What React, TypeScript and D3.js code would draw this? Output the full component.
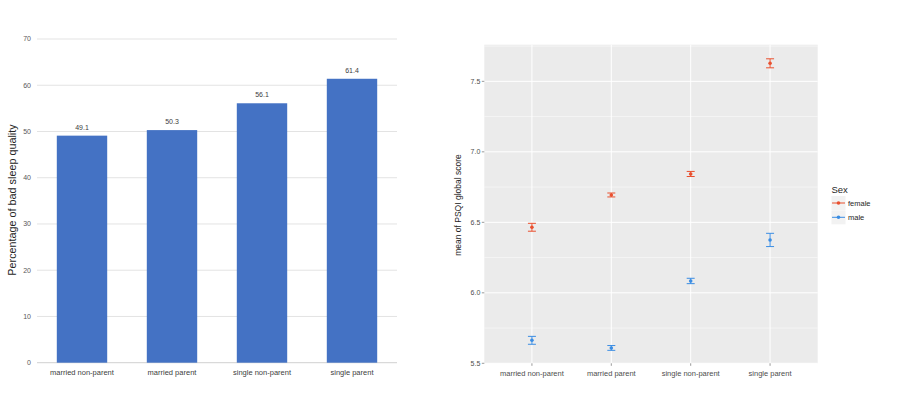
import React from "react";
import * as d3 from "d3";

// bar chart data
const groups = ["married non-parent", "married parent", "single non-parent", "single parent"];
const badSleepPct = [49.1, 50.3, 56.1, 61.4];
const pctTicks = [0, 10, 20, 30, 40, 50, 60, 70];

// point/errorbar chart data
const sexes = ["female", "male"];
const femaleMean = [6.465, 6.694, 6.843, 7.628];
const femaleErr = [0.028, 0.014, 0.018, 0.032];
const maleMean = [5.663, 5.609, 6.084, 6.375];
const maleErr = [0.028, 0.017, 0.019, 0.047];
const psqiTicks = [5.5, 6.0, 6.5, 7.0, 7.5];
const psqiMinor = [5.75, 6.25, 6.75, 7.25, 7.75];

const sexColors = ["#E9502F", "#3B8DE3"];
const font = "Liberation Sans, Arial, sans-serif";

const App: React.FC = () => {
  // left chart
  const x1 = d3.scaleBand().domain(groups).range([37, 397]).paddingInner(0.44).paddingOuter(0.22);
  const y1 = d3.scaleLinear().domain([0, 70]).range([362.7, 39]);

  // right chart
  const px0 = 484.3, px1 = 817.7, py0 = 44.7, py1 = 363.3;
  const x2 = d3.scalePoint().domain(groups).range([px0, px1]).padding(0.6);
  const y2 = d3.scaleLinear().domain([5.5, 7.76]).range([py1, py0]);

  const series = [
    { name: sexes[0], mean: femaleMean, err: femaleErr, color: sexColors[0] },
    { name: sexes[1], mean: maleMean, err: maleErr, color: sexColors[1] },
  ];

  return (
    <svg width={918} height={418} style={{ position: "absolute", left: 0, top: 0 }} fontFamily={font}>
      <rect width={918} height={418} fill="#fff" />

      {/* left: bars */}
      {pctTicks.map((t) => (
        <g key={"g" + t}>
          <line x1={37} x2={397} y1={y1(t)} y2={y1(t)} stroke={t === 0 ? "#D0D0D0" : "#E3E3E3"} strokeWidth={1} />
          <text x={31} y={y1(t)} dy="0.35em" textAnchor="end" fontSize={7} fill="#595959">{t}</text>
        </g>
      ))}
      {groups.map((g, i) => (
        <g key={g}>
          <rect x={x1(g)!} y={y1(badSleepPct[i])} width={x1.bandwidth()} height={y1(0) - y1(badSleepPct[i])} fill="#4472C4" />
          <text x={x1(g)! + x1.bandwidth() / 2} y={y1(badSleepPct[i]) - 8.5} dy="0.35em" textAnchor="middle" fontSize={7} fill="#404040">
            {badSleepPct[i].toFixed(1)}
          </text>
          <text x={x1(g)! + x1.bandwidth() / 2} y={372.7} dy="0.35em" textAnchor="middle" fontSize={7.5} fill="#404040">{g}</text>
        </g>
      ))}
      <text transform="translate(16,200) rotate(-90)" textAnchor="middle" fontSize={10.8} fill="#262626">
        Percentage of bad sleep quality
      </text>

      {/* right: ggplot panel */}
      <rect x={px0} y={py0} width={px1 - px0} height={py1 - py0} fill="#EBEBEB" />
      {psqiMinor.map((t) => (
        <line key={"m" + t} x1={px0} x2={px1} y1={y2(t)} y2={y2(t)} stroke="#fff" strokeWidth={0.5} />
      ))}
      {psqiTicks.map((t) => (
        <g key={"p" + t}>
          <line x1={px0} x2={px1} y1={y2(t)} y2={y2(t)} stroke="#fff" strokeWidth={1} />
          <line x1={px0 - 2.5} x2={px0} y1={y2(t)} y2={y2(t)} stroke="#333" strokeWidth={0.5} />
          <text x={px0 - 4} y={y2(t)} dy="0.35em" textAnchor="end" fontSize={7} fill="#4D4D4D">{t.toFixed(1)}</text>
        </g>
      ))}
      {groups.map((g) => (
        <g key={"x" + g}>
          <line x1={x2(g)!} x2={x2(g)!} y1={py0} y2={py1} stroke="#fff" strokeWidth={1} />
          <line x1={x2(g)!} x2={x2(g)!} y1={py1} y2={py1 + 2.5} stroke="#333" strokeWidth={0.5} />
          <text x={x2(g)!} y={373.3} dy="0.35em" textAnchor="middle" fontSize={7.5} fill="#4D4D4D">{g}</text>
        </g>
      ))}
      {series.map((s) =>
        groups.map((g, i) => {
          const cx = x2(g)!;
          const hi = y2(s.mean[i] + s.err[i]);
          const lo = y2(s.mean[i] - s.err[i]);
          return (
            <g key={s.name + g} stroke={s.color} strokeWidth={1}>
              <line x1={cx} x2={cx} y1={hi} y2={lo} />
              <line x1={cx - 4} x2={cx + 4} y1={hi} y2={hi} />
              <line x1={cx - 4} x2={cx + 4} y1={lo} y2={lo} />
              <circle cx={cx} cy={y2(s.mean[i])} r={1.8} fill={s.color} stroke="none" />
            </g>
          );
        })
      )}
      <text transform="translate(461,205) rotate(-90)" textAnchor="middle" fontSize={8.5} fill="#262626">
        mean of PSQI global score
      </text>

      {/* legend */}
      <text x={831.5} y={189.5} dy="0.35em" fontSize={9.5} fill="#262626">Sex</text>
      {series.map((s, i) => {
        const ky = 203 + i * 14.3;
        return (
          <g key={"l" + s.name}>
            <rect x={831.5} y={ky - 7} width={14} height={14} fill="#F2F2F2" />
            <line x1={832} x2={845} y1={ky} y2={ky} stroke={s.color} strokeWidth={1} />
            <circle cx={838.5} cy={ky} r={1.8} fill={s.color} />
            <text x={848} y={ky} dy="0.35em" fontSize={7.5} fill="#262626">{s.name}</text>
          </g>
        );
      })}
    </svg>
  );
};

export default App;
